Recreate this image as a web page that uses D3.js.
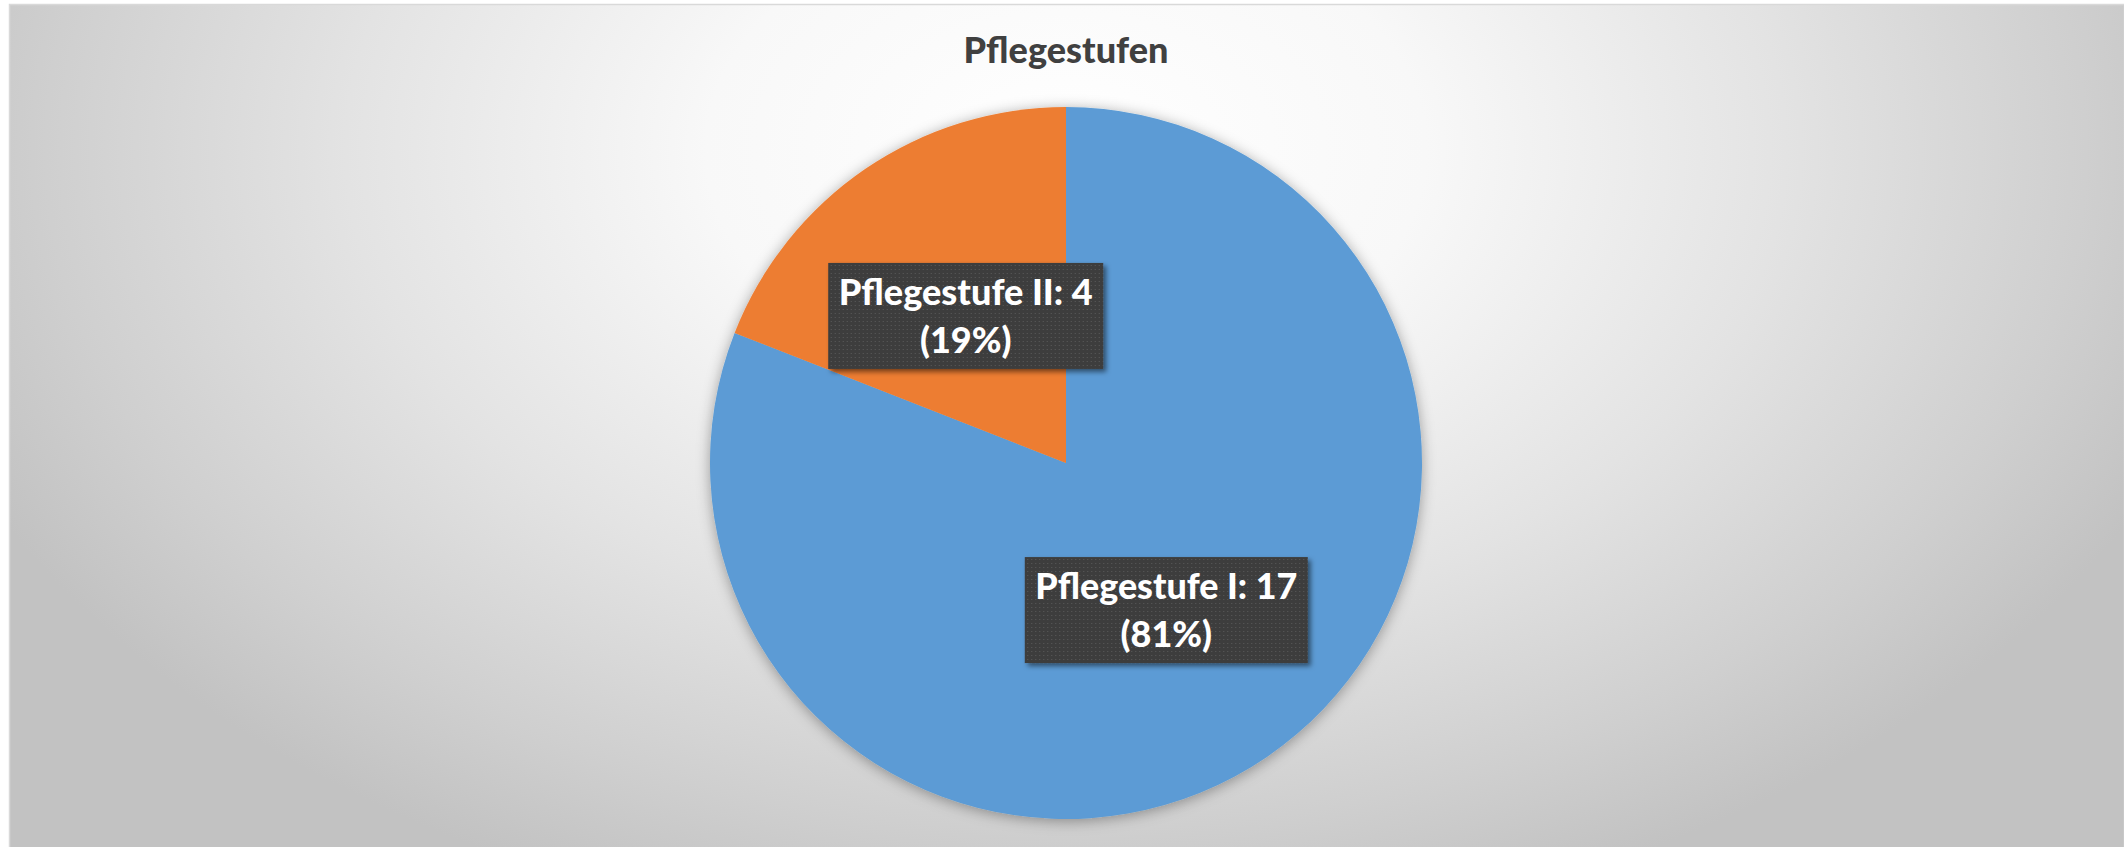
<!DOCTYPE html>
<html>
<head>
<meta charset="utf-8">
<script src="https://cdn.jsdelivr.net/npm/d3@7"></script>
<style>
  html, body { margin: 0; padding: 0; background: #ffffff; }
  svg { display: block; }
</style>
</head>
<body>
<svg id="chart" width="2124" height="847"></svg>
<script>
// Pie data
const title = "Pflegestufen";
const categories = ["Pflegestufe I", "Pflegestufe II"];
const values = [17, 4];
const sliceColors = ["#5B9BD5", "#ED7D31"];

const W = 2124, H = 847;
const cx = 1066, cy = 463, R = 356;

const svg = d3.select("#chart");
const defs = svg.append("defs");

// Background: soft radial fade from white near the top centre to grey at the edges
const bg = defs.append("radialGradient")
  .attr("id", "bgGrad")
  .attr("gradientUnits", "userSpaceOnUse")
  .attr("cx", 0).attr("cy", 0).attr("r", 1)
  .attr("gradientTransform", "translate(1066,150) scale(1200,800)");
[[0, "#ffffff"], [0.3, "#f8f8f8"], [0.6, "#e3e3e3"], [0.85, "#cfcfcf"], [1, "#c2c2c2"]]
  .forEach(([o, c]) => bg.append("stop").attr("offset", o).attr("stop-color", c));

// Soft shadow around the pie
const pieShadow = defs.append("filter").attr("id", "pieShadow")
  .attr("x", "-20%").attr("y", "-20%").attr("width", "140%").attr("height", "140%");
pieShadow.append("feDropShadow")
  .attr("dx", 0).attr("dy", 2).attr("stdDeviation", 7)
  .attr("flood-color", "#000").attr("flood-opacity", 0.35);

// Shadow for the label boxes
const boxShadow = defs.append("filter").attr("id", "boxShadow")
  .attr("x", "-10%").attr("y", "-20%").attr("width", "120%").attr("height", "150%");
boxShadow.append("feDropShadow")
  .attr("dx", 3).attr("dy", 3).attr("stdDeviation", 2.5)
  .attr("flood-color", "#000").attr("flood-opacity", 0.5);

// Dotted dark fill for the label boxes
const pat = defs.append("pattern").attr("id", "dots")
  .attr("patternUnits", "userSpaceOnUse").attr("width", 4).attr("height", 4);
pat.append("rect").attr("width", 4).attr("height", 4).attr("fill", "#3c3c3c");
pat.append("rect").attr("x", 1).attr("y", 1).attr("width", 1).attr("height", 1).attr("fill", "#5c5c5c");

// Chart area
svg.append("rect")
  .attr("x", 9.5).attr("y", 4.5)
  .attr("width", W - 9).attr("height", H)
  .attr("fill", "url(#bgGrad)")
  .attr("stroke", "#d9d9d9").attr("stroke-width", 1.5);

// Title
svg.append("text")
  .attr("x", cx).attr("y", 63)
  .attr("text-anchor", "middle")
  .attr("font-family", "Lato, 'Open Sans', sans-serif")
  .attr("font-weight", 900)
  .attr("font-size", 36)
  .attr("fill", "#404040")
  .attr("textLength", 205).attr("lengthAdjust", "spacingAndGlyphs")
  .text(title);

// Pie
const total = d3.sum(values);
const pie = d3.pie().sort(null).value(d => d.value);
const arcs = pie(categories.map((c, i) => ({ name: c, value: values[i], color: sliceColors[i] })));
const arc = d3.arc().innerRadius(0).outerRadius(R);

const g = svg.append("g").attr("transform", `translate(${cx},${cy})`);
g.append("g").attr("filter", "url(#pieShadow)")
  .selectAll("path")
  .data(arcs)
  .join("path")
  .attr("d", arc)
  .attr("fill", d => d.data.color);

// Data labels: "Name: value" and "(percent)" on a dark box at the slice centroid
const labelWidths = [262, 254];
const boxPad = 10.5;
const lines = g.selectAll("g.label")
  .data(arcs)
  .join("g")
  .attr("class", "label")
  .attr("transform", d => {
    const [x, y] = arc.centroid(d);
    return `translate(${x},${y})`;
  });

lines.each(function (d, i) {
  const sel = d3.select(this);
  const tw = labelWidths[i];
  const bw = tw + boxPad * 2, bh = 106;
  sel.append("rect")
    .attr("x", -bw / 2).attr("y", -bh / 2)
    .attr("width", bw).attr("height", bh)
    .attr("fill", "url(#dots)")
    .attr("filter", "url(#boxShadow)");
  const pct = Math.round(d.data.value / total * 100);
  const t = sel.append("text")
    .attr("text-anchor", "middle")
    .attr("font-family", "Lato, 'Open Sans', sans-serif")
    .attr("font-weight", 900)
    .attr("font-size", 36)
    .attr("fill", "#ffffff");
  t.append("tspan").attr("x", 0).attr("y", -11)
    .attr("textLength", tw).attr("lengthAdjust", "spacingAndGlyphs")
    .text(`${d.data.name}: ${d.data.value}`);
  t.append("tspan").attr("x", 0).attr("y", 37)
    .text(`(${pct}%)`);
});
</script>
</body>
</html>
